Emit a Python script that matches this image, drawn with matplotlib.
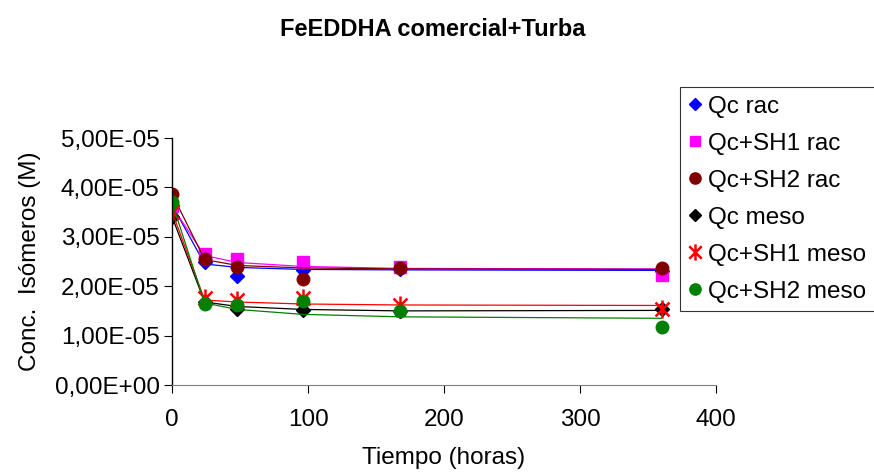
import matplotlib
matplotlib.use("Agg")
import matplotlib.pyplot as plt
from matplotlib.path import Path
from matplotlib.lines import Line2D
from matplotlib.ticker import FuncFormatter

plt.rcParams['font.family'] = ['Liberation Sans', 'DejaVu Sans']

# tiempos de muestreo (horas)
tiempo = [0, 24, 48, 96, 168, 360]

# valores medidos (x 1e-5 M)
qc_rac = [3.65, 2.50, 2.20, 2.33, 2.35, 2.30]
qc_sh1_rac = [3.62, 2.65, 2.55, 2.49, 2.38, 2.23]
qc_sh2_rac = [3.87, 2.56, 2.39, 2.14, 2.36, 2.37]
qc_meso = [3.41, 1.69, 1.53, 1.52, 1.50, 1.54]
qc_sh1_meso = [3.51, 1.76, 1.72, 1.77, 1.62, 1.54]
qc_sh2_meso = [3.70, 1.64, 1.61, 1.70, 1.50, 1.17]

# curvas ajustadas (x 1e-5 M)
fit_qc_rac = [3.65, 2.45, 2.38, 2.34, 2.33, 2.32]
fit_sh1_rac = [3.62, 2.62, 2.48, 2.40, 2.36, 2.35]
fit_sh2_rac = [3.87, 2.54, 2.42, 2.37, 2.35, 2.34]
fit_qc_meso = [3.41, 1.68, 1.59, 1.53, 1.50, 1.51]
fit_sh1_meso = [3.51, 1.72, 1.68, 1.64, 1.62, 1.61]
fit_sh2_meso = [3.70, 1.66, 1.53, 1.43, 1.38, 1.35]

labels = ["Qc rac", "Qc+SH1 rac", "Qc+SH2 rac", "Qc meso", "Qc+SH1 meso", "Qc+SH2 meso"]

# marcador estrella tipo Excel (X + barra vertical)
star = Path([(-1, -1), (1, 1), (-1, 1), (1, -1), (0, -1.3), (0, 1.3)],
            [Path.MOVETO, Path.LINETO, Path.MOVETO, Path.LINETO, Path.MOVETO, Path.LINETO])

estilos = [
    dict(color="#0000FF", marker="D", ms=7),
    dict(color="#FF00FF", marker="s", ms=8),
    dict(color="#800000", marker="o", ms=9),
    dict(color="#000000", marker="D", ms=7),
    dict(color="#FF0000", marker=star, ms=13, mew=1.8),
    dict(color="#008000", marker="o", ms=9),
]

medidas = [qc_rac, qc_sh1_rac, qc_sh2_rac, qc_meso, qc_sh1_meso, qc_sh2_meso]
ajustes = [fit_qc_rac, fit_sh1_rac, fit_sh2_rac, fit_qc_meso, fit_sh1_meso, fit_sh2_meso]

fig = plt.figure(figsize=(8.74, 4.73), dpi=100)
ax = fig.add_axes([172 / 874, 1 - 385 / 473, (716 - 172) / 874, (385 - 138) / 473])

handles = []
for y, f, st, lab in zip(medidas, ajustes, estilos, labels):
    ax.plot(tiempo, [v * 1e-5 for v in f], color=st["color"], lw=0.9)
    ax.plot(tiempo, [v * 1e-5 for v in y], linestyle="none", marker=st["marker"],
            markersize=st["ms"], color=st["color"], markeredgewidth=st.get("mew", 1))
    handles.append(Line2D([], [], linestyle="none", marker=st["marker"], markersize=st["ms"] * 0.9,
                          color=st["color"], markeredgewidth=st.get("mew", 1), label=lab))

ax.set_xlim(0, 400)
ax.set_ylim(0, 5e-5)
ax.set_xticks([0, 100, 200, 300, 400])
ax.set_yticks([0, 1e-5, 2e-5, 3e-5, 4e-5, 5e-5])
ax.yaxis.set_major_formatter(FuncFormatter(lambda v, p: ("%.2E" % v).replace(".", ",")))
ax.spines['top'].set_visible(False)
ax.spines['right'].set_visible(False)
ax.spines['left'].set_linewidth(1)
ax.spines['bottom'].set_color("#808080")
ax.tick_params(direction="out", length=6, labelsize=17.5, pad=3)
ax.tick_params(axis="x", pad=11, colors="black")
ax.set_xlabel("Tiempo (horas)", fontsize=17.5, labelpad=12)
ax.set_ylabel("Conc.  Isómeros (M)", fontsize=17.5, labelpad=10)

fig.text(433 / 874, 1 - 30 / 473, "FeEDDHA comercial+Turba", ha="center", va="center",
         fontsize=17, fontweight="bold")

leg = fig.legend(handles=handles, loc="upper left", bbox_to_anchor=(680 / 874, 1 - 87 / 473),
                 fontsize=17.5, frameon=True, fancybox=False, handlelength=0.5, handletextpad=0.3,
                 labelspacing=0.62, borderpad=0.35, borderaxespad=0)
leg.get_frame().set_edgecolor("black")
leg.get_frame().set_linewidth(0.8)

fig.savefig("out.png", dpi=100)
